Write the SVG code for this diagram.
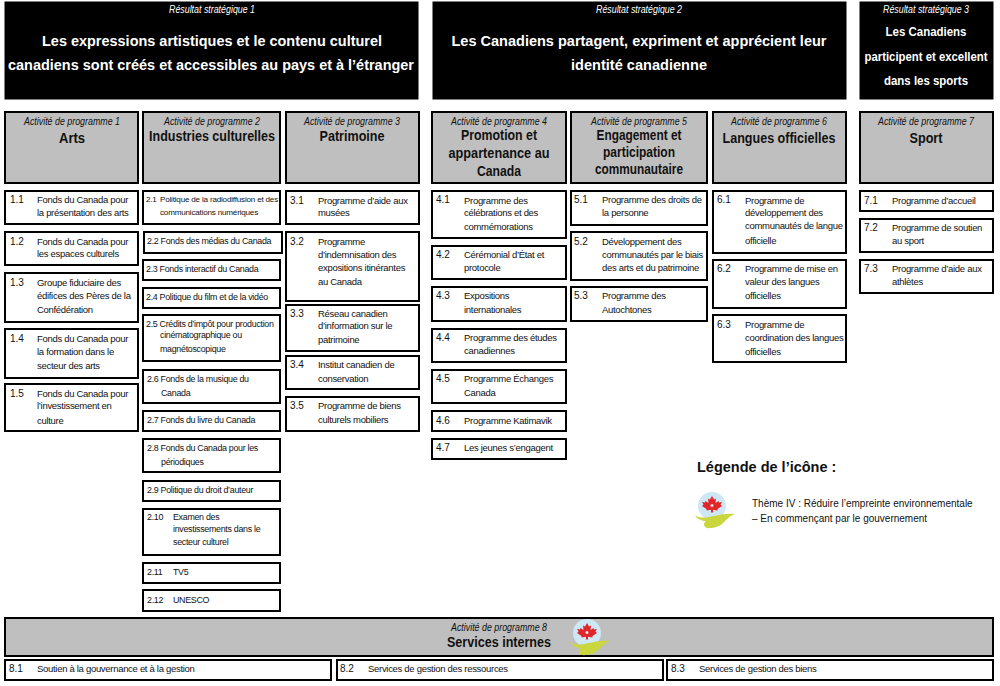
<svg xmlns="http://www.w3.org/2000/svg" width="1000" height="686" viewBox="0 0 1000 686">
<style>
text{font-family:"Liberation Sans",Arial,sans-serif;fill:#111}
.blk{fill:#000;stroke:#000}
.gr{fill:#bfbfbf;stroke:#000;stroke-width:2}
.it{fill:#fff;stroke:#000;stroke-width:2}
.sub{font-size:10px;font-style:italic;text-anchor:middle}
.wsub{font-size:10px;font-style:italic;text-anchor:middle;fill:#fff}
.wt{font-size:15.5px;font-weight:bold;text-anchor:middle;fill:#fff}
.wt3{font-size:12.5px;font-weight:bold;text-anchor:middle;fill:#fff}
.pt{font-size:14px;font-weight:bold;text-anchor:middle}
.i{font-size:9.5px;letter-spacing:-.3px}
.c2{font-size:8.9px;letter-spacing:-.3px}
.s{font-size:8.1px;letter-spacing:-.2px}
.n{font-size:10px;letter-spacing:0}
</style>
<defs>
<g id="icon">
<circle cx="0" cy="-1" r="14" fill="#cde7f5"/>
<path d="M0-11 2-7.500 4-8.500 3.500-4 6.500-6 7-4.500 10-5 8.500-2.500 10-1 5.500 2 5.500 3.500 1 2.800 1 5.500-1 5.500-1 2.800-5.500 3.500-5.500 2-10-1-8.500-2.500-10-5-7-4.500-6.500-6-3.500-4-4-8.500-2-7.500Z" fill="#e0262b"/>
<circle cx="0" cy="-1.500" r="1.800" fill="#fff" stroke="#e0262b" stroke-width=".8"/>
<path d="M-17 8C-8 15 6 5 23 7 13 10 13 20-1 21-8 22-10 17-6 14-10 14-15 12-17 8Z" fill="#c9d63e"/>
</g>
</defs>
<g id="resultats">
<g id="r1"><rect class="blk" x="5" y="2" width="413" height="97"/><text class="wsub" x="212" y="13" textLength="86" lengthAdjust="spacingAndGlyphs">Résultat stratégique 1</text><text class="wt" x="212" y="46" textLength="340" lengthAdjust="spacingAndGlyphs">Les expressions artistiques et le contenu culturel</text><text class="wt" x="211" y="70" textLength="406" lengthAdjust="spacingAndGlyphs">canadiens sont créés et accessibles au pays et à l’étranger</text></g>
<g id="r2"><rect class="blk" x="433" y="2" width="413" height="97"/><text class="wsub" x="639" y="13" textLength="86" lengthAdjust="spacingAndGlyphs">Résultat stratégique 2</text><text class="wt" x="639" y="46" textLength="375" lengthAdjust="spacingAndGlyphs">Les Canadiens partagent, expriment et apprécient leur</text><text class="wt" x="639" y="70" textLength="136" lengthAdjust="spacingAndGlyphs">identité canadienne</text></g>
<g id="r3"><rect class="blk" x="860" y="2" width="133" height="97"/><text class="wsub" x="926" y="13" textLength="86" lengthAdjust="spacingAndGlyphs">Résultat stratégique 3</text><text class="wt3" x="926" y="36" textLength="81" lengthAdjust="spacingAndGlyphs">Les Canadiens</text><text class="wt3" x="926" y="61" textLength="123" lengthAdjust="spacingAndGlyphs">participent et excellent</text><text class="wt3" x="926" y="85" textLength="84" lengthAdjust="spacingAndGlyphs">dans les sports</text></g>
</g>
<g id="programmes">
<g id="p1"><rect class="gr" x="5" y="112" width="133" height="71"/><text class="sub" x="72" y="125" textLength="96" lengthAdjust="spacingAndGlyphs">Activité de programme 1</text><text class="pt" x="72" y="143" textLength="26" lengthAdjust="spacingAndGlyphs">Arts</text></g>
<g id="p2"><rect class="gr" x="143" y="112" width="137" height="71"/><text class="sub" x="212" y="125" textLength="96" lengthAdjust="spacingAndGlyphs">Activité de programme 2</text><text class="pt" x="212" y="141" textLength="126" lengthAdjust="spacingAndGlyphs">Industries culturelles</text></g>
<g id="p3"><rect class="gr" x="286" y="112" width="133" height="71"/><text class="sub" x="352" y="125" textLength="96" lengthAdjust="spacingAndGlyphs">Activité de programme 3</text><text class="pt" x="352" y="141" textLength="65" lengthAdjust="spacingAndGlyphs">Patrimoine</text></g>
<g id="p4"><rect class="gr" x="432" y="112" width="134" height="71"/><text class="sub" x="499" y="125" textLength="96" lengthAdjust="spacingAndGlyphs">Activité de programme 4</text><text class="pt" x="499" y="140" textLength="76" lengthAdjust="spacingAndGlyphs">Promotion et</text><text class="pt" x="499" y="158" textLength="101" lengthAdjust="spacingAndGlyphs">appartenance au</text><text class="pt" x="499" y="176" textLength="44" lengthAdjust="spacingAndGlyphs">Canada</text></g>
<g id="p5"><rect class="gr" x="571" y="112" width="136" height="71"/><text class="sub" x="639" y="125" textLength="96" lengthAdjust="spacingAndGlyphs">Activité de programme 5</text><text class="pt" x="639" y="140" textLength="85" lengthAdjust="spacingAndGlyphs">Engagement et</text><text class="pt" x="639" y="157" textLength="72" lengthAdjust="spacingAndGlyphs">participation</text><text class="pt" x="639" y="174" textLength="88" lengthAdjust="spacingAndGlyphs">communautaire</text></g>
<g id="p6"><rect class="gr" x="713" y="112" width="133" height="71"/><text class="sub" x="779" y="125" textLength="96" lengthAdjust="spacingAndGlyphs">Activité de programme 6</text><text class="pt" x="779" y="143" textLength="113" lengthAdjust="spacingAndGlyphs">Langues officielles</text></g>
<g id="p7"><rect class="gr" x="860" y="112" width="133" height="71"/><text class="sub" x="926" y="125" textLength="96" lengthAdjust="spacingAndGlyphs">Activité de programme 7</text><text class="pt" x="926" y="143" textLength="33" lengthAdjust="spacingAndGlyphs">Sport</text></g>
<g id="p8"><rect class="gr" x="5" y="618" width="988" height="38"/><text class="sub" x="499" y="631" textLength="96" lengthAdjust="spacingAndGlyphs">Activité de programme 8</text><text class="pt" x="499" y="647" textLength="104" lengthAdjust="spacingAndGlyphs">Services internes</text><use href="#icon" x="587" y="634"/></g>
</g>
<g id="items" class="i">
<g id="i1-1"><rect class="it" x="5" y="191" width="133" height="33"/><text x="10" y="203" class="n">1.1</text><text x="37" y="203">Fonds du Canada pour</text><text x="37" y="216">la présentation des arts</text></g>
<g id="i1-2"><rect class="it" x="5" y="232" width="133" height="33"/><text x="10" y="245" class="n">1.2</text><text x="37" y="245">Fonds du Canada pour</text><text x="37" y="257">les espaces culturels</text></g>
<g id="i1-3"><rect class="it" x="5" y="273" width="133" height="49"/><text x="10" y="286" class="n">1.3</text><text x="37" y="286">Groupe fiduciaire des</text><text x="37" y="299">édifices des Pères de la</text><text x="37" y="313">Confédération</text></g>
<g id="i1-4"><rect class="it" x="5" y="329" width="133" height="49"/><text x="10" y="342" class="n">1.4</text><text x="37" y="342">Fonds du Canada pour</text><text x="37" y="355">la formation dans le</text><text x="37" y="369">secteur des arts</text></g>
<g id="i1-5"><rect class="it" x="5" y="384" width="133" height="47"/><text x="10" y="397" class="n">1.5</text><text x="37" y="397">Fonds du Canada pour</text><text x="37" y="409">l’investissement en</text><text x="37" y="424">culture</text></g>

<g id="i2-1"><rect class="it" x="143" y="191" width="137" height="33"/><text x="146" y="202" class="s">2.1</text><text x="160" y="202" class="s">Politique de la radiodiffusion et des</text><text x="160" y="215" class="s">communications numériques</text></g>
<g id="i2-2" class="c2"><rect class="it" x="144" y="232" width="138" height="21"/><text x="147" y="244">2.2 Fonds des médias du Canada</text></g>
<g id="i2-3" class="c2"><rect class="it" x="143" y="260" width="137" height="20"/><text x="146" y="272">2.3 Fonds interactif du Canada</text></g>
<g id="i2-4" class="c2"><rect class="it" x="143" y="288" width="137" height="20"/><text x="146" y="300">2.4 Politique du film et de la vidéo</text></g>
<g id="i2-5" class="c2"><rect class="it" x="143" y="315" width="137" height="46"/><text x="146" y="327">2.5 Crédits d’impôt pour production</text><text x="160" y="338">cinématographique ou</text><text x="160" y="352">magnétoscopique</text></g>
<g id="i2-6" class="c2"><rect class="it" x="143" y="370" width="137" height="33"/><text x="147" y="382">2.6 Fonds de la musique du</text><text x="161" y="396">Canada</text></g>
<g id="i2-7" class="c2"><rect class="it" x="143" y="411" width="137" height="20"/><text x="147" y="423">2.7 Fonds du livre du Canada</text></g>
<g id="i2-8" class="c2"><rect class="it" x="143" y="439" width="137" height="33"/><text x="147" y="451">2.8 Fonds du Canada pour les</text><text x="161" y="465">périodiques</text></g>
<g id="i2-9" class="c2"><rect class="it" x="143" y="481" width="137" height="20"/><text x="147" y="493">2.9 Politique du droit d’auteur</text></g>
<g id="i2-10" class="c2"><rect class="it" x="143" y="509" width="137" height="46"/><text x="147" y="520">2.10</text><text x="173" y="520">Examen des</text><text x="173" y="532">investissements dans le</text><text x="173" y="545">secteur culturel</text></g>
<g id="i2-11" class="c2"><rect class="it" x="143" y="563" width="137" height="20"/><text x="147" y="575">2.11</text><text x="173" y="575">TV5</text></g>
<g id="i2-12" class="c2"><rect class="it" x="143" y="590" width="137" height="21"/><text x="147" y="603">2.12</text><text x="173" y="603">UNESCO</text></g>

<g id="i3-1"><rect class="it" x="286" y="191" width="133" height="33"/><text x="290" y="204" class="n">3.1</text><text x="318" y="204">Programme d’aide aux</text><text x="318" y="216">musées</text></g>
<g id="i3-2"><rect class="it" x="286" y="232" width="133" height="69"/><text x="290" y="245" class="n">3.2</text><text x="318" y="245">Programme</text><text x="318" y="258">d’indemnisation des</text><text x="318" y="271">expositions itinérantes</text><text x="318" y="285">au Canada</text></g>
<g id="i3-3"><rect class="it" x="286" y="305" width="133" height="46"/><text x="290" y="317" class="n">3.3</text><text x="318" y="317">Réseau canadien</text><text x="318" y="329">d’information sur le</text><text x="318" y="343">patrimoine</text></g>
<g id="i3-4"><rect class="it" x="286" y="356" width="133" height="33"/><text x="290" y="368" class="n">3.4</text><text x="318" y="368">Institut canadien de</text><text x="318" y="382">conservation</text></g>
<g id="i3-5"><rect class="it" x="286" y="397" width="133" height="34"/><text x="290" y="409" class="n">3.5</text><text x="318" y="409">Programme de biens</text><text x="318" y="423">culturels mobiliers</text></g>

<g id="i4-1"><rect class="it" x="432" y="191" width="134" height="47"/><text x="436" y="203" class="n">4.1</text><text x="464" y="204">Programme des</text><text x="464" y="216">célébrations et des</text><text x="464" y="230">commémorations</text></g>
<g id="i4-2"><rect class="it" x="432" y="246" width="134" height="33"/><text x="436" y="258" class="n">4.2</text><text x="464" y="258">Cérémonial d’État et</text><text x="464" y="271">protocole</text></g>
<g id="i4-3"><rect class="it" x="432" y="287" width="134" height="34"/><text x="436" y="299" class="n">4.3</text><text x="464" y="299">Expositions</text><text x="464" y="313">internationales</text></g>
<g id="i4-4"><rect class="it" x="432" y="329" width="134" height="33"/><text x="436" y="341" class="n">4.4</text><text x="464" y="341">Programme des études</text><text x="464" y="354">canadiennes</text></g>
<g id="i4-5"><rect class="it" x="432" y="370" width="134" height="33"/><text x="436" y="382" class="n">4.5</text><text x="464" y="382">Programme Échanges</text><text x="464" y="396">Canada</text></g>
<g id="i4-6"><rect class="it" x="432" y="411" width="134" height="20"/><text x="436" y="424" class="n">4.6</text><text x="464" y="424">Programme Katimavik</text></g>
<g id="i4-7"><rect class="it" x="432" y="439" width="134" height="20"/><text x="436" y="451" class="n">4.7</text><text x="464" y="451">Les jeunes s’engagent</text></g>

<g id="i5-1"><rect class="it" x="571" y="191" width="136" height="34"/><text x="574" y="203" class="n">5.1</text><text x="602" y="203">Programme des droits de</text><text x="602" y="216">la personne</text></g>
<g id="i5-2"><rect class="it" x="571" y="232" width="136" height="48"/><text x="574" y="245" class="n">5.2</text><text x="602" y="245">Développement des</text><text x="602" y="258">communautés par le biais</text><text x="602" y="271">des arts et du patrimoine</text></g>
<g id="i5-3"><rect class="it" x="571" y="287" width="136" height="34"/><text x="574" y="299" class="n">5.3</text><text x="602" y="299">Programme des</text><text x="602" y="313">Autochtones</text></g>

<g id="i6-1"><rect class="it" x="713" y="191" width="133" height="62"/><text x="717" y="203" class="n">6.1</text><text x="745" y="204">Programme de</text><text x="745" y="216">développement des</text><text x="745" y="229">communautés de langue</text><text x="745" y="244">officielle</text></g>
<g id="i6-2"><rect class="it" x="713" y="260" width="133" height="48"/><text x="717" y="272" class="n">6.2</text><text x="745" y="272">Programme de mise en</text><text x="745" y="285">valeur des langues</text><text x="745" y="299">officielles</text></g>
<g id="i6-3"><rect class="it" x="713" y="315" width="133" height="47"/><text x="717" y="328" class="n">6.3</text><text x="745" y="328">Programme de</text><text x="745" y="341">coordination des langues</text><text x="745" y="355">officielles</text></g>

<g id="i7-1"><rect class="it" x="860" y="191" width="133" height="20"/><text x="864" y="204" class="n">7.1</text><text x="892" y="204">Programme d’accueil</text></g>
<g id="i7-2"><rect class="it" x="860" y="219" width="133" height="33"/><text x="864" y="231" class="n">7.2</text><text x="892" y="231">Programme de soutien</text><text x="892" y="244">au sport</text></g>
<g id="i7-3"><rect class="it" x="860" y="260" width="133" height="33"/><text x="864" y="272" class="n">7.3</text><text x="892" y="272">Programme d’aide aux</text><text x="892" y="285">athlètes</text></g>

<g id="i8-1"><rect class="it" x="5" y="660" width="326" height="20"/><text x="9" y="672" class="n">8.1</text><text x="37" y="672">Soutien à la gouvernance et à la gestion</text></g>
<g id="i8-2"><rect class="it" x="337" y="660" width="326" height="20"/><text x="340" y="672" class="n">8.2</text><text x="368" y="672">Services de gestion des ressources</text></g>
<g id="i8-3"><rect class="it" x="667" y="660" width="326" height="20"/><text x="671" y="672" class="n">8.3</text><text x="699" y="672">Services de gestion des biens</text></g>
</g>
<g id="legende">
<text x="697" y="472" style="font-size:14.500px;font-weight:bold">Légende de l’icône :</text>
<use href="#icon" x="712" y="507"/>
<text x="752" y="507" style="font-size:10px">Thème IV : Réduire l’empreinte environnementale</text>
<text x="752" y="522" style="font-size:10px">– En commençant par le gouvernement</text>
</g>
</svg>
